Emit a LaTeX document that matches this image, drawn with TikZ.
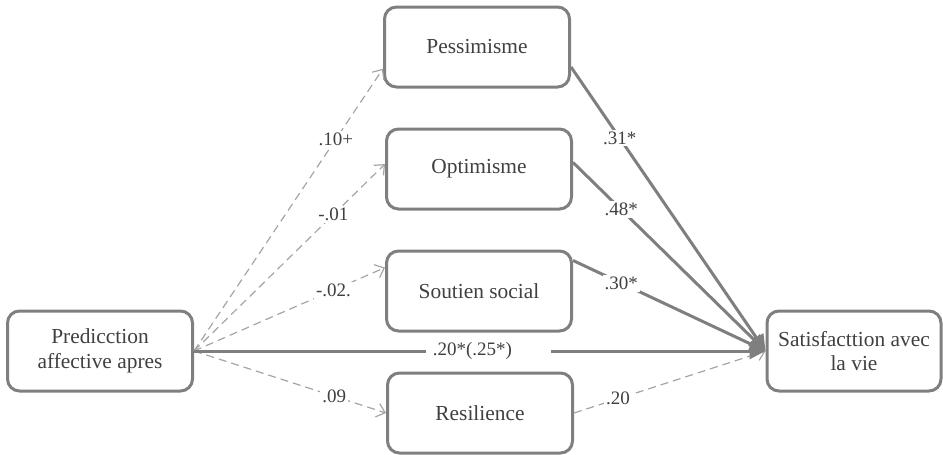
\documentclass[tikz,border=0pt]{standalone}
\usepackage{fontspec}
\setmainfont{Liberation Serif}
\newfontfamily\timesfont{Liberation Serif}
\usetikzlibrary{arrows.meta,positioning,calc}
\definecolor{boxgray}{HTML}{7F7F7F}
\definecolor{dashgray}{HTML}{A5A5A5}
\definecolor{textgray}{HTML}{404040}
\tikzset{
  var/.style={rounded corners=6pt,draw=boxgray,fill=white,line width=1.5pt,minimum width=92.5pt,minimum height=40pt,align=center,font=\timesfont\fontsize{10.7}{12.4}\selectfont,text=textgray},
  coef/.style={fill=white,inner sep=1pt,font=\timesfont\fontsize{9.5}{11}\selectfont,text=textgray},
  pathsig/.style={-{Triangle[length=8pt,width=8pt]},draw=boxgray,line width=1.5pt},
  pathns/.style={-{Straight Barb[length=4pt,width=7pt]},draw=dashgray,line width=0.6pt,dash pattern=on 4pt off 2.5pt}
}
\begin{document}
\begin{tikzpicture}[x=0.5pt,y=-0.5pt]
\path[use as bounding box] (0,0) rectangle (943,455);
\node[var] (pred) at (100,351) {Predicction\\affective apres};
\node[var] (pess) at (477,47) {Pessimisme};
\node[var] (opti) at (479,169) {Optimisme};
\node[var] (sout) at (479,291) {Soutien social};
\node[var] (resi) at (480,413) {Resilience};
\node[var,minimum width=87pt] (sat) at (854,351) {Satisfacttion avec\\la vie};
% chemins a
\draw[pathns] (pred.east) -- node[coef,pos=0.75] {.10+} (pess.193);
\draw[pathns] (pred.east) -- node[coef,pos=0.73] {-.01} (opti.177);
\draw[pathns] (pred.east) -- node[coef,pos=0.73] {-.02.} (sout.166);
\draw[pathns] (pred.east) -- node[coef,pos=0.73] {.09} (resi.west);
% chemins b
\draw[pathsig] (pess.-12) -- node[coef,pos=0.25] {.31*} (sat.west);
\draw[pathsig] (opti.4) -- node[coef,pos=0.25] {.48*} (sat.west);
\draw[pathsig] (sout.18) -- node[coef,pos=0.25] {.30*} (sat.west);
\draw[pathns] (resi.east) -- node[coef,pos=0.23] {.20} (sat.west);
% chemin c
\draw[pathsig] (pred.east) -- node[coef,pos=0.515,text width=55.5pt,align=left,inner xsep=3.5pt] {.20*(.25*)} (sat.west);
\end{tikzpicture}
\end{document}
